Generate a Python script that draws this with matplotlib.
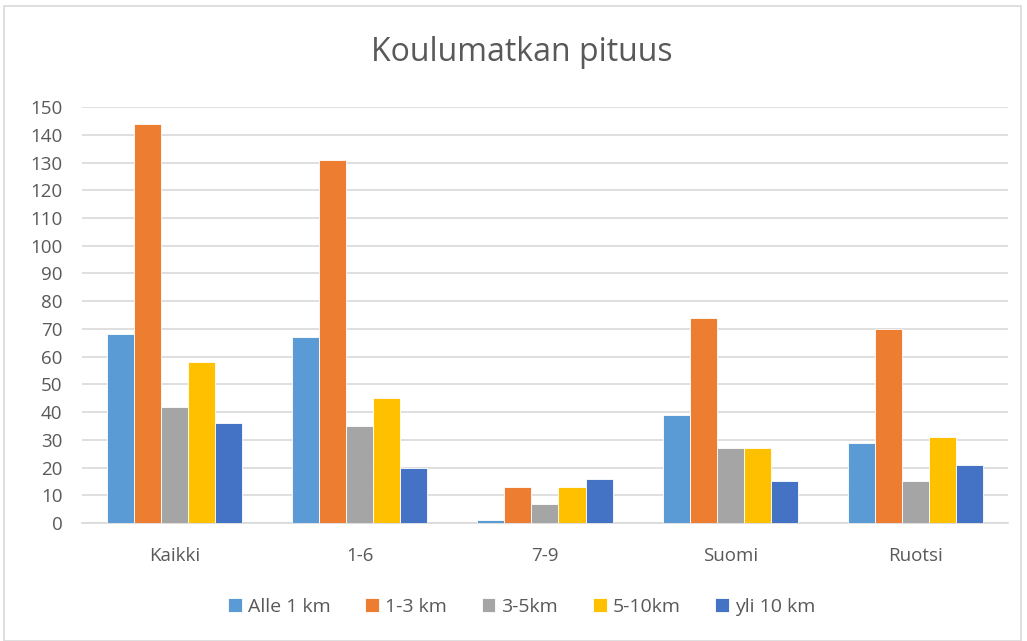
import numpy as np
import matplotlib.pyplot as plt
from matplotlib.patches import Rectangle

categories = ['Kaikki', '1-6', '7-9', 'Suomi', 'Ruotsi']
series_names = ['Alle 1 km', '1-3 km', '3-5km', '5-10km', 'yli 10 km']
alle_1 = [68, 67, 1, 39, 29]
km_1_3 = [144, 131, 13, 74, 70]
km_3_5 = [42, 35, 7, 27, 15]
km_5_10 = [58, 45, 13, 27, 31]
yli_10 = [36, 20, 16, 15, 21]
colors = ['#5B9BD5', '#ED7D31', '#A5A5A5', '#FFC000', '#4472C4']

plt.rcParams['font.family'] = ['Open Sans', 'DejaVu Sans']
text_col = '#595959'

fig = plt.figure(figsize=(10.27, 6.41), dpi=100)
ax = fig.add_axes([0.0798, 0.184, 0.9017, 0.649])

x = np.arange(len(categories))
w = 0.146
values = [alle_1, km_1_3, km_3_5, km_5_10, yli_10]
for i, (name, vals) in enumerate(zip(series_names, values)):
    ax.bar(x + (i - 2) * w, vals, width=w, color=colors[i], label=name,
           edgecolor='white', linewidth=0.6, zorder=3)

ax.set_xlim(-0.5, len(categories) - 0.5)
ax.set_ylim(0, 150)
ax.set_yticks(range(0, 151, 10))
ax.grid(axis='y', color='#D9D9D9', linewidth=1.2, zorder=0)
for s in ['top', 'right', 'left']:
    ax.spines[s].set_visible(False)
ax.spines['bottom'].set_color('#D9D9D9')
ax.spines['bottom'].set_linewidth(1.2)
ax.set_xticks(x)
ax.set_xticklabels(categories)
ax.tick_params(axis='both', length=0, labelsize=13.5, colors=text_col)
ax.tick_params(axis='x', pad=17)
ax.tick_params(axis='y', pad=14)

fig.text(0.508, 0.918, 'Koulumatkan pituus', ha='center', va='center',
         fontsize=23, color=text_col)

leg = fig.legend(loc='center', bbox_to_anchor=(0.508, 0.053), ncol=5, frameon=False,
                 fontsize=14, handlelength=0.7, handleheight=0.7, handletextpad=0.3,
                 columnspacing=1.8)
for t in leg.get_texts():
    t.set_color(text_col)

fig.patches.append(Rectangle((0.004, 0.0), 0.99, 0.99, transform=fig.transFigure,
                             fill=False, edgecolor='#D9D9D9', linewidth=1.2))

fig.savefig('out.png', dpi=100)
